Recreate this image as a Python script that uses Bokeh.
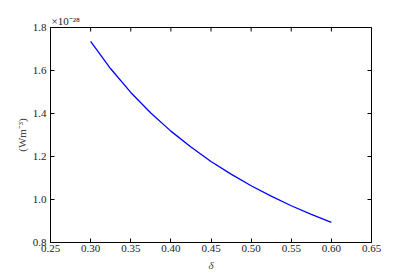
import math
from bokeh.plotting import figure
from bokeh.models import Range1d, Title, FixedTicker, PrintfTickFormatter
from bokeh.embed import file_html
from bokeh.resources import INLINE

delta = [0.300, 0.325, 0.350, 0.375, 0.400, 0.425, 0.450, 0.475, 0.500, 0.525, 0.550, 0.575, 0.600]
power = [1.736, 1.608, 1.498, 1.402, 1.318, 1.244, 1.177, 1.118, 1.064, 1.016, 0.971, 0.931, 0.894]
x_ticks = [0.25, 0.30, 0.35, 0.40, 0.45, 0.50, 0.55, 0.60, 0.65]
y_ticks = [0.8, 1.0, 1.2, 1.4, 1.6, 1.8]
scale_label = "×10⁻²⁸"

FONT = "Liberation Serif"
XMIN, XMAX, YMIN, YMAX = 0.25, 0.65, 0.8, 1.8

p = figure(frame_width=321, frame_height=215, output_backend="svg", toolbar_location=None,
           x_range=Range1d(XMIN, XMAX), y_range=Range1d(YMIN, YMAX),
           min_border_left=50, min_border_top=27, min_border_right=20, min_border_bottom=10)
p.background_fill_color = "white"
p.border_fill_color = "white"
p.grid.visible = False
p.outline_line_color = "black"
p.outline_line_width = 1

p.line(delta, power, line_color="#0000ff", line_width=1.3)

# inward ticks on the top and right edges (half of each dash is clipped by the frame)
p.scatter(x_ticks, [YMAX] * len(x_ticks), marker="dash", angle=math.pi / 2, size=8,
          line_color="black", line_width=1)
p.scatter([XMAX] * len(y_ticks), y_ticks, marker="dash", size=8,
          line_color="black", line_width=1)

p.xaxis.ticker = FixedTicker(ticks=x_ticks)
p.yaxis.ticker = FixedTicker(ticks=y_ticks)
p.xaxis.formatter = PrintfTickFormatter(format="%.2f")
p.yaxis.formatter = PrintfTickFormatter(format="%.1f")

for ax in p.xaxis + p.yaxis:
    ax.major_tick_in = 4
    ax.major_tick_out = 0
    ax.minor_tick_line_color = None
    ax.axis_line_color = "black"
    ax.major_label_text_font = FONT
    ax.major_label_text_font_size = "11px"
    ax.major_label_text_color = "#222222"
    ax.axis_label_text_font = FONT
    ax.axis_label_text_font_size = "11px"
    ax.axis_label_text_font_style = "normal"

p.xaxis.axis_label = "δ"
p.xaxis.axis_label_text_font_style = "italic"
p.xaxis.axis_label_standoff = 4
p.xaxis.major_label_standoff = 2
p.yaxis.axis_label = "(Wm⁻³)"
p.yaxis.axis_label_standoff = 2
p.yaxis.major_label_standoff = 4

p.add_layout(Title(text=scale_label, align="left", text_font=FONT, text_font_size="11px",
                   text_font_style="normal", text_color="#222222", offset=1, standoff=1), "above")

html = file_html(p, INLINE)
open("out.html", "w").write(html)
